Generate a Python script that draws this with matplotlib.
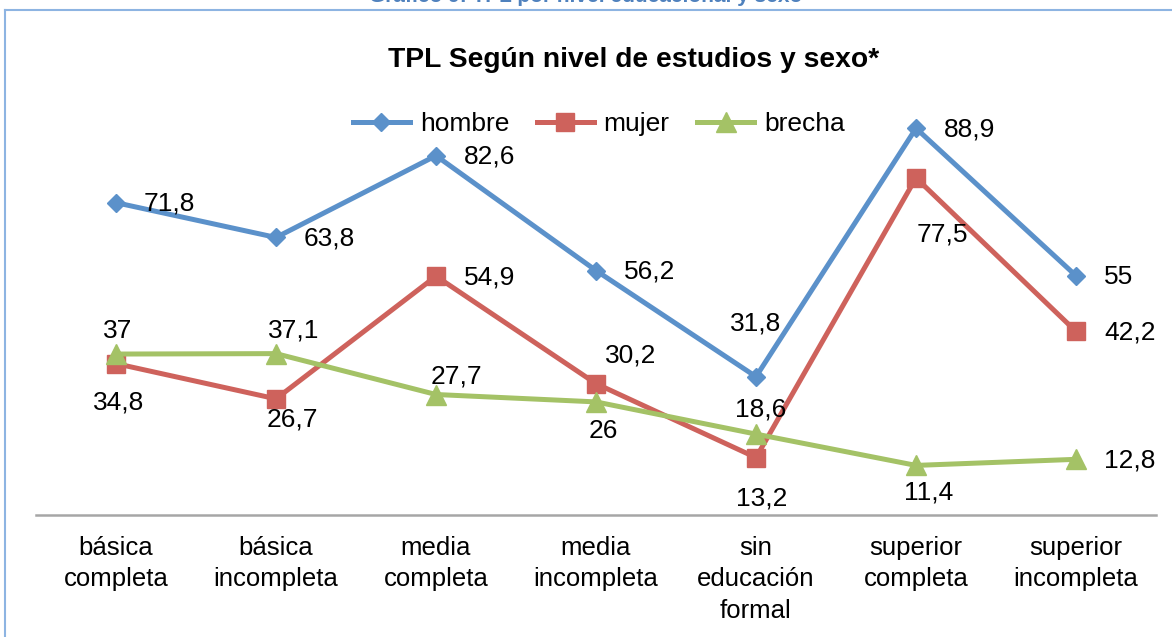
import matplotlib.pyplot as plt
from matplotlib.lines import Line2D

plt.rcParams['font.family'] = ['Liberation Sans', 'DejaVu Sans']

categorias = ['básica\ncompleta', 'básica\nincompleta', 'media\ncompleta', 'media\nincompleta',
              'sin\neducación\nformal', 'superior\ncompleta', 'superior\nincompleta']
hombre = [71.8, 63.8, 82.6, 56.2, 31.8, 88.9, 55]
mujer = [34.8, 26.7, 54.9, 30.2, 13.2, 77.5, 42.2]
brecha = [37, 37.1, 27.7, 26, 18.6, 11.4, 12.8]

# label offsets in pixels (dx, dy), 'r' means right of the marker
off_hombre = ['r', 'r', 'r', 'r', (0, 53), 'r', 'r']
off_mujer = [(3, -39), (16, -21), 'r', (35, 28), (6, -41), (26, -57), 'r']
off_brecha = [(2, 23), (18, 23), (20, 18), (7, -29), (5, 25), (13, -27), 'r']

azul = '#5B91CA'
rojo = '#CE625C'
verde = '#A4C266'

W, H = 1172, 637
fig = plt.figure(figsize=(W / 100, H / 100), dpi=100)
ax = fig.add_axes([36 / W, 1 - 515 / H, 1120 / W, 435 / H])

x = list(range(len(categorias)))
ax.plot(x, hombre, color=azul, lw=3.6, marker='D', ms=9.5, label='hombre')
ax.plot(x, mujer, color=rojo, lw=3.6, marker='s', ms=13.5, label='mujer')
ax.plot(x, brecha, color=verde, lw=3.6, marker='^', ms=14, label='brecha')


def fmt(v):
    s = ('%.1f' % v).replace('.', ',')
    if s.endswith(',0'):
        s = s[:-2]
    return s


for serie, offs in [(hombre, off_hombre), (mujer, off_mujer), (brecha, off_brecha)]:
    for i, v in enumerate(serie):
        o = offs[i]
        if o == 'r':
            ax.annotate(fmt(v), (i, v), xytext=(28, -1), textcoords='offset pixels',
                        ha='left', va='center', fontsize=19)
        else:
            ax.annotate(fmt(v), (i, v), xytext=o, textcoords='offset pixels',
                        ha='center', va='center', fontsize=19)

ax.set_xlim(-0.5, 6.5)
ax.set_ylim(0, 100)
ax.set_xticks(x)
ax.set_xticklabels(categorias, fontsize=18.5, linespacing=1.4)
ax.tick_params(axis='x', length=0, pad=15)
ax.set_yticks([])
for s in ['top', 'right', 'left']:
    ax.spines[s].set_visible(False)
ax.spines['bottom'].set_color('#A6A6A6')
ax.spines['bottom'].set_linewidth(1.8)
ax.patch.set_alpha(0)

ax.legend(loc='center', bbox_to_anchor=(599 / W, 1 - 124 / H), bbox_transform=fig.transFigure,
          ncol=3, frameon=False, fontsize=19, handlelength=2.15, columnspacing=1.05,
          handletextpad=0.38)

fig.text(634 / W, 1 - 60 / H, 'TPL Según nivel de estudios y sexo*', ha='center', va='center',
         fontsize=20.3, fontweight='bold')
fig.text(0.5, 1 + 3 / H, 'Gráfico 9: TPL por nivel educacional y sexo', ha='center', va='center',
         fontsize=15, fontweight='bold', color='#4F81BD')

# frame lines
fig.add_artist(Line2D([5 / W, 5 / W], [0, 1 - 10 / H], color='#8DB4E2', lw=1.5))
fig.add_artist(Line2D([5 / W, 1], [1 - 10 / H, 1 - 10 / H], color='#8DB4E2', lw=1.5))

fig.savefig('out.png', dpi=100)
